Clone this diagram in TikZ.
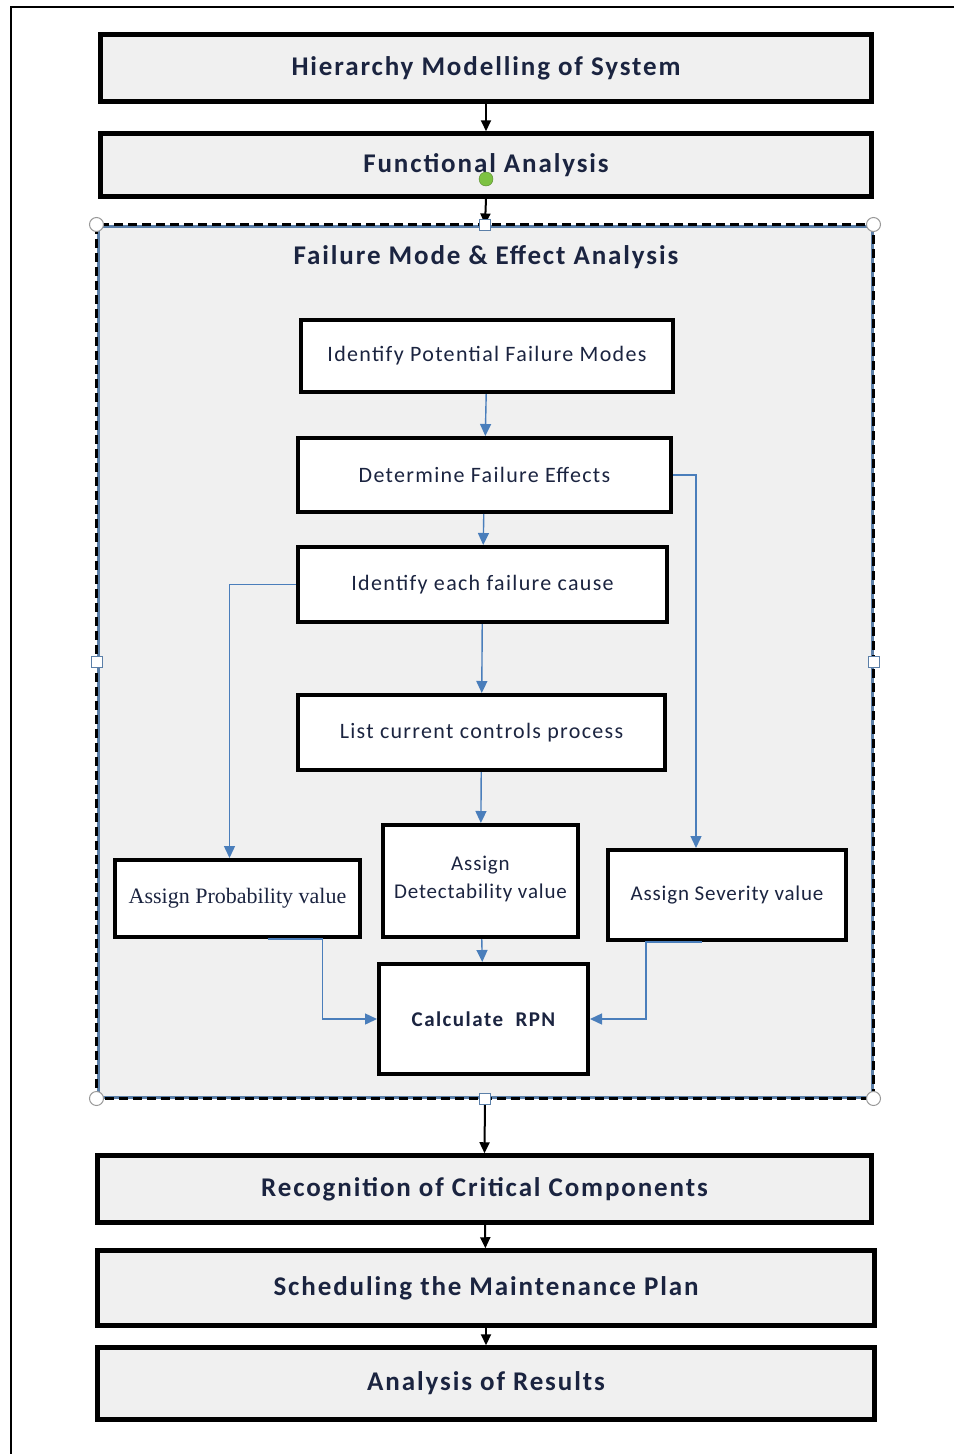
\documentclass[tikz,border=0pt]{standalone}
\usepackage{fontspec}
\setmainfont{Carlito}
\newfontfamily\widefont[LetterSpace=7]{Carlito}
\newfontfamily\midwidefont[LetterSpace=6]{Carlito}
\newfontfamily\halfwidefont[LetterSpace=4]{Carlito}
\newfontfamily\timesfont{Liberation Serif}
\usetikzlibrary{arrows.meta, positioning, calc}
\definecolor{boxgray}{HTML}{F0F0F0}
\definecolor{textnavy}{HTML}{1B2440}
\definecolor{flowblue}{HTML}{4A7EBB}
\definecolor{selblue}{HTML}{5B7FA8}
\definecolor{handlegreen}{HTML}{7DC242}
\tikzset{
  mainbox/.style={rectangle, draw=black, fill=boxgray, line width=4.5pt,
                  inner sep=0pt, align=center, text=textnavy,
                  font=\widefont\fontsize{27}{30}\selectfont\bfseries},
  stepbox/.style={rectangle, draw=black, fill=white, line width=4pt,
                  inner sep=0pt, align=center, text=textnavy,
                  font=\midwidefont\fontsize{22}{28}\selectfont},
  fmeabox/.style={rectangle, draw=selblue, fill=boxgray, line width=3pt,
                  inner sep=0pt},
  arr/.style={-{Triangle[length=11pt, width=10pt]}, line width=2pt, black},
  blarr/.style={-{Triangle[length=12pt, width=11pt]}, line width=1.4pt, flowblue},
  hround/.style={circle, draw=gray!80, fill=white, line width=1pt, minimum size=14pt, inner sep=0pt},
  hsquare/.style={rectangle, draw=selblue, fill=white, line width=1pt, minimum size=11pt, inner sep=0pt},
}
\begin{document}
\begin{tikzpicture}[x=1pt, y=-1pt]
  \useasboundingbox (0,0) rectangle (954,1454);
  % frame of the page
  \draw[line width=1.5pt] (954,7) -- (11,7) -- (11,1454);

  % Top of the flow
  \node[mainbox, minimum width=771, minimum height=67] (hms) at (486, 68) {Hierarchy Modelling of System};
  \node[mainbox, minimum width=771, minimum height=63] (fa) at (486, 165) {Functional Analysis};

  % FMEA group
  \node[fmeabox, minimum width=774, minimum height=871] (fmea) at (485, 661.5) {};
  \draw[black, line width=3pt, dash pattern=on 9pt off 5pt] (fmea.north west) rectangle (fmea.south east);
  \node[text=textnavy, font=\widefont\fontsize{27}{30}\selectfont\bfseries] (fmeatitle) at (486, 257) {Failure Mode \& Effect Analysis};

  \node[stepbox, minimum width=372, minimum height=72] (ipfm) at (487, 356) {Identify Potential Failure Modes};
  \node[stepbox, minimum width=373, minimum height=74] (dfe) at (484.5, 475) {Determine Failure Effects};
  \node[stepbox, minimum width=369, minimum height=75] (iefc) at (482.5, 584.5) {Identify each failure cause};
  \node[stepbox, minimum width=367, minimum height=75] (lccp) at (481.5, 732.5) {List current controls process};
  \node[stepbox, minimum width=195, minimum height=112, font=\halfwidefont\fontsize{21}{28}\selectfont] (adv) at (480.5, 881) {Assign\\Detectability value\\[-20pt]};
  \node[stepbox, minimum width=245, minimum height=77, font=\fontsize{22}{24}\timesfont] (apv) at (237.5, 898.5) {Assign Probability value};
  \node[stepbox, minimum width=238, minimum height=90, font=\halfwidefont\fontsize{21}{24}\selectfont] (asv) at (727, 895) {Assign Severity value};
  \node[stepbox, minimum width=209, minimum height=110, font=\widefont\fontsize{21}{24}\selectfont\bfseries] (rpn) at (483.5, 1019) {Calculate~~RPN};

  % Bottom of the flow
  \node[mainbox, minimum width=774, minimum height=67] (rcc) at (484.5, 1189) {Recognition of Critical Components};
  \node[mainbox, minimum width=777, minimum height=75] (smp) at (486, 1288) {Scheduling the Maintenance Plan};
  \node[mainbox, minimum width=777, minimum height=72] (ares) at (486, 1383.5) {Analysis of Results};

  % Arrows
  \draw[arr] (hms) -- (fa);
  \draw[arr] (fa.south) -- (fmea.north);
  \draw[arr] (fmea.south) -- (rcc.north);
  \draw[arr] (rcc) -- (smp);
  \draw[arr] (smp) -- (ares);

  \draw[blarr] (ipfm) -- (dfe);
  \draw[blarr] (dfe) -- (iefc);
  \draw[blarr] (iefc) -- (lccp);
  \draw[blarr] (lccp) -- (adv);
  \draw[blarr] (adv) -- (rpn);
  \draw[blarr] (iefc.west) -| ([xshift=-8]apv.north);
  \draw[blarr] (dfe.east) -| ([xshift=-31]asv.north);
  \draw[blarr] ([xshift=30]apv.south) -- ([xshift=85]apv.south) |- (rpn.west);
  \draw[blarr] ([xshift=-25]asv.south) -- ([xshift=-81]asv.south) |- (rpn.east);

  % selection handles
  \node[hround] (hnw) at (fmea.north west) {};
  \node[hround] (hne) at (fmea.north east) {};
  \node[hround] (hsw) at (fmea.south west) {};
  \node[hround] (hse) at (fmea.south east) {};
  \node[hsquare] (hn) at (fmea.north) {};
  \node[hsquare] (hs) at (fmea.south) {};
  \node[hsquare] (hw) at (fmea.west) {};
  \node[hsquare] (he) at (fmea.east) {};
  \node[circle, fill=handlegreen, draw=handlegreen!70!black, minimum size=14pt, inner sep=0pt] (hrot) at (486, 179) {};
\end{tikzpicture}
\end{document}
